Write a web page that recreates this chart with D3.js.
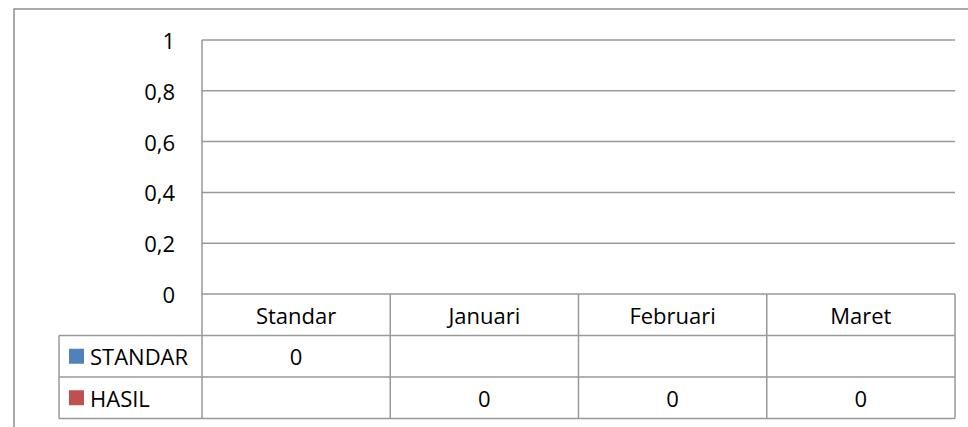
<!DOCTYPE html>
<html><head><meta charset="utf-8">
<script src="https://cdn.jsdelivr.net/npm/d3@7"></script>
<style>html,body{margin:0;padding:0;background:#fff;}svg{display:block;font-family:"Open Sans",sans-serif;}</style>
</head><body>
<svg id="c" width="968" height="427"></svg>
<script>
const categories = ["Standar","Januari","Februari","Maret"];
const seriesNames = ["STANDAR","HASIL"];
const standarValues = [0, null, null, null];
const hasilValues = [null, 0, 0, 0];
const yTicks = [0, 0.2, 0.4, 0.6, 0.8, 1];
const colors = ["#4F81BD","#C0504D"];

(function(){
const svg = d3.select("#c");
const lineC = "#999", lw = 1.5, fs = 22;
const pLeft = 202, pRight = 955, pTop = 40, base = 294;
const rowH = 41.5, legendLeft = 59;

const x = d3.scaleBand().domain(categories).range([pLeft, pRight]);
const y = d3.scaleLinear().domain([0, 1]).range([base, pTop]);

// outer border
svg.append("path").attr("d", "M14,427 L14,9 L968,9").attr("fill","none").attr("stroke","#8f8f8f").attr("stroke-width",1.5);

// gridlines
svg.append("g").selectAll("line").data(yTicks.filter(d=>d>0)).join("line")
  .attr("x1", pLeft).attr("x2", pRight).attr("y1", d=>y(d)).attr("y2", d=>y(d))
  .attr("stroke", lineC).attr("stroke-width", lw);

// y tick labels
const fmt = d => String(d).replace(".", ",");
svg.append("g").selectAll("text").data(yTicks).join("text")
  .attr("x", 175).attr("y", d=>y(d)).attr("text-anchor","end").attr("dominant-baseline","central")
  .attr("font-size", fs).attr("fill","#000").text(fmt);

// bars (zero-height)
const series = [standarValues, hasilValues];
const xs = d3.scaleBand().domain(seriesNames).range([0, x.bandwidth()]).paddingInner(0).paddingOuter(0.6);
series.forEach((vals, si) => {
  svg.append("g").selectAll("rect").data(vals.map((v,i)=>({v, c:categories[i]})).filter(d=>d.v!==null)).join("rect")
    .attr("x", d=>x(d.c)+xs(seriesNames[si])).attr("width", xs.bandwidth())
    .attr("y", d=>y(d.v)).attr("height", d=>y(0)-y(d.v)).attr("fill", colors[si]);
});

// data table
const tableBottom = base + rowH*3;
const g = svg.append("g").attr("stroke", lineC).attr("stroke-width", lw).attr("fill","none");
g.append("line").attr("x1",pLeft).attr("x2",pLeft).attr("y1",pTop).attr("y2",tableBottom);
g.append("line").attr("x1",pLeft).attr("x2",pRight).attr("y1",base).attr("y2",base);
[1,2,3].forEach(r => g.append("line").attr("x1",legendLeft).attr("x2",pRight).attr("y1",base+rowH*r).attr("y2",base+rowH*r));
categories.forEach((c,i) => { if(i>0) g.append("line").attr("x1",x(c)).attr("x2",x(c)).attr("y1",base).attr("y2",tableBottom); });
g.append("line").attr("x1",pRight).attr("x2",pRight).attr("y1",base).attr("y2",tableBottom);
g.append("line").attr("x1",legendLeft).attr("x2",legendLeft).attr("y1",base+rowH).attr("y2",tableBottom);

// header labels
svg.append("g").selectAll("text").data(categories).join("text")
  .attr("x", d=>x(d)+x.bandwidth()/2).attr("y", base+rowH/2).attr("text-anchor","middle").attr("dominant-baseline","central")
  .attr("font-size", fs).attr("fill","#000").text(d=>d);

// legend rows
seriesNames.forEach((n, si) => {
  const cy = base + rowH*(si+1) + rowH/2;
  svg.append("rect").attr("x", 69).attr("y", cy-7.5).attr("width",15).attr("height",15).attr("fill",colors[si]);
  svg.append("text").attr("x", 90).attr("y", cy).attr("dominant-baseline","central")
    .attr("font-size", fs).attr("fill","#000").text(n);
  svg.append("g").selectAll("text").data(series[si].map((v,i)=>({v,c:categories[i]})).filter(d=>d.v!==null)).join("text")
    .attr("x", d=>x(d.c)+x.bandwidth()/2).attr("y", cy).attr("text-anchor","middle").attr("dominant-baseline","central")
    .attr("font-size", fs).attr("fill","#000").text(d=>String(d.v));
});
})();
</script>
</body></html>
